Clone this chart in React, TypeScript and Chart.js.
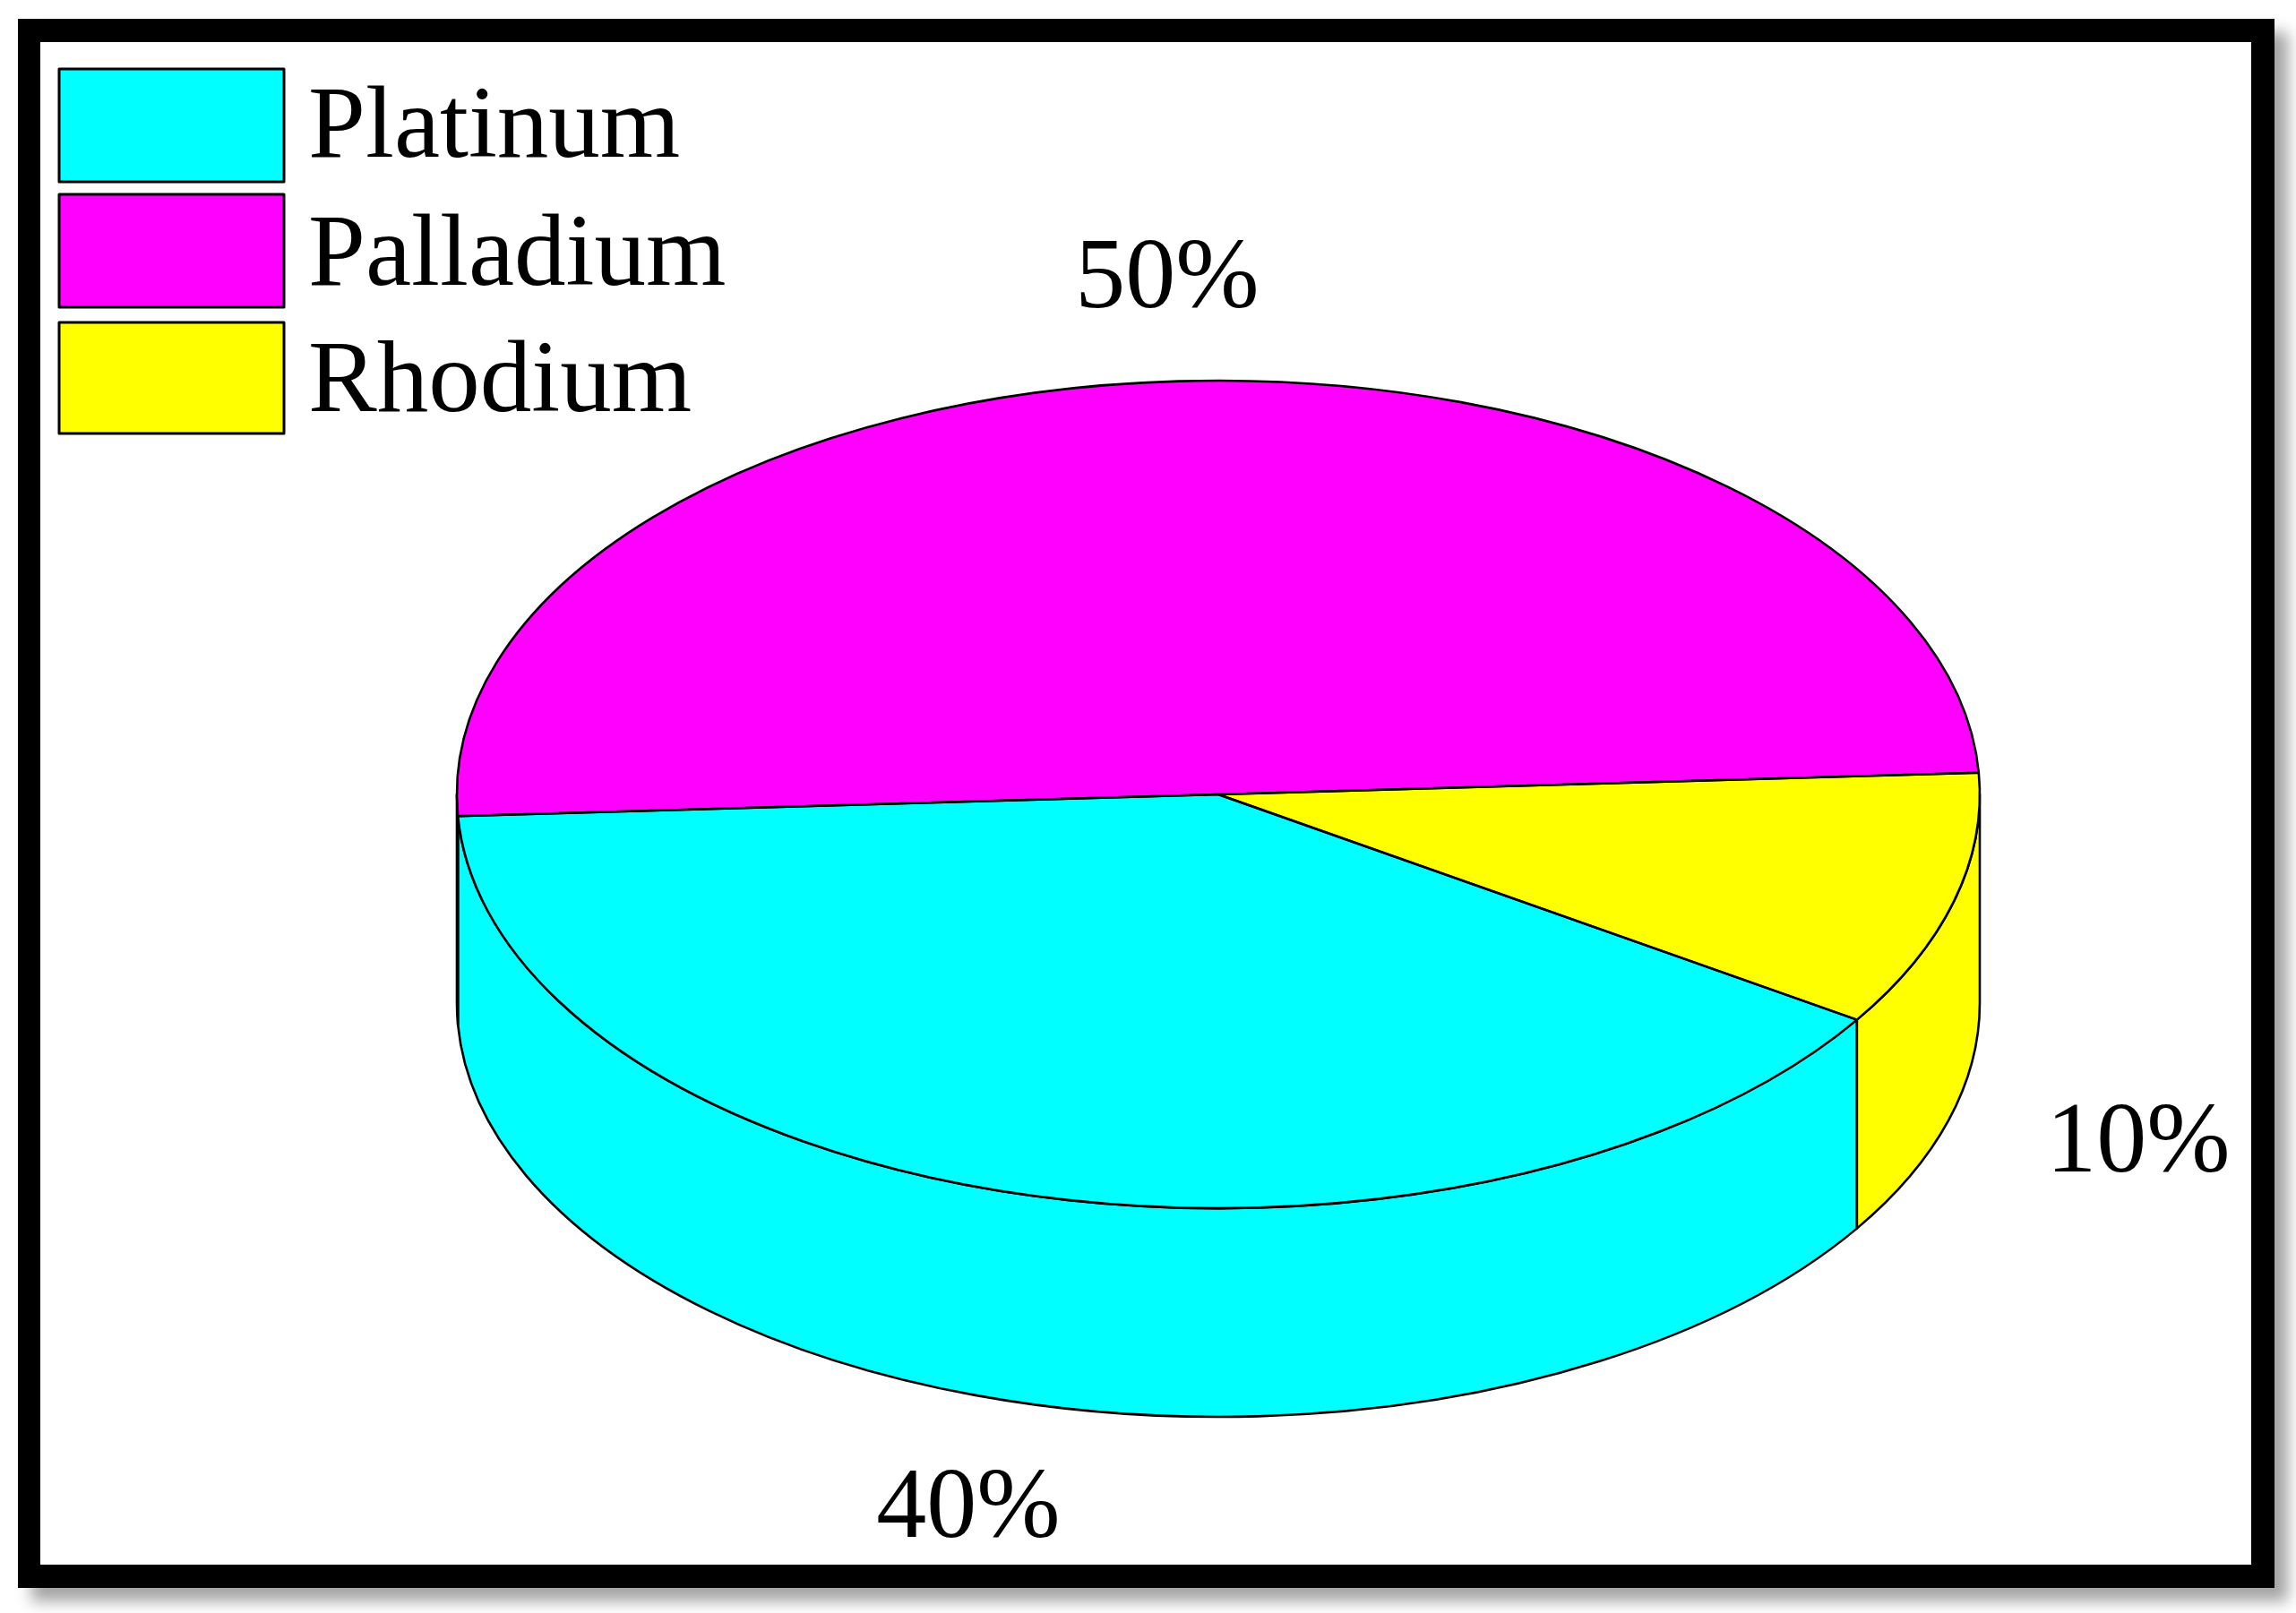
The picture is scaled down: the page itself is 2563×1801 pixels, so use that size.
import React, { useEffect, useRef } from "react";
import { Chart, registerables } from "chart.js";

Chart.register(...registerables);

const categories = ["Platinum", "Palladium", "Rhodium"];
const shares = [40, 50, 10];
const sliceColors = ["#00ffff", "#ff00ff", "#ffff00"];

const FONT = '"Liberation Serif", "Times New Roman", serif';
const SQUASH = 462 / 850;
const DEPTH = 233;
const LINE = 2.6;
const INK = "#000000";

// centre x and baseline y of the percentage text of each slice
const valueLabelAnchors = [
  { x: 1081, y: 1716 },
  { x: 1303, y: 343 },
  { x: 2387, y: 1308 },
];

const pie3d = {
  id: "pie3d",
  beforeDraw(chart: any) {
    const { ctx, width, height } = chart;
    ctx.save();
    ctx.fillStyle = "#ffffff";
    ctx.fillRect(0, 0, width, height);
    ctx.shadowColor = "rgba(0,0,0,0.36)";
    ctx.shadowOffsetX = 15;
    ctx.shadowOffsetY = 15;
    ctx.shadowBlur = 16;
    ctx.fillStyle = "#000000";
    ctx.fillRect(20, 21, 2519, 1752);
    ctx.shadowColor = "transparent";
    ctx.fillStyle = "#ffffff";
    ctx.fillRect(45, 47, 2468, 1700);
    ctx.restore();
  },
  beforeDatasetsDraw(chart: any) {
    const { ctx } = chart;
    const arcs = chart.getDatasetMeta(0).data;
    const { x: cx, y: cy, outerRadius: r } = arcs[0].getProps(["x", "y", "outerRadius"], true);
    ctx.save();
    ctx.lineWidth = LINE;
    ctx.strokeStyle = INK;
    ctx.lineJoin = "round";
    arcs.forEach((arc: any, i: number) => {
      const { startAngle: s, endAngle: e } = arc.getProps(["startAngle", "endAngle"], true);
      for (const base of [-2 * Math.PI, 0, 2 * Math.PI]) {
        const lo = Math.max(s, base);
        const hi = Math.min(e, base + Math.PI);
        if (hi <= lo) continue;
        ctx.beginPath();
        ctx.ellipse(cx, cy, r, r * SQUASH, 0, lo, hi, false);
        ctx.ellipse(cx, cy + DEPTH, r, r * SQUASH, 0, hi, lo, true);
        ctx.closePath();
        ctx.fillStyle = sliceColors[i];
        ctx.fill();
        ctx.stroke();
      }
    });
    ctx.restore();
    ctx.save();
    ctx.translate(cx, cy);
    ctx.scale(1, SQUASH);
    ctx.translate(-cx, -cy);
  },
  afterDatasetsDraw(chart: any) {
    const { ctx } = chart;
    ctx.restore();
    const arcs = chart.getDatasetMeta(0).data;
    ctx.save();
    ctx.lineWidth = LINE;
    ctx.strokeStyle = INK;
    ctx.lineJoin = "round";
    arcs.forEach((arc: any) => {
      const { x, y, outerRadius: r, startAngle: s, endAngle: e } = arc.getProps(
        ["x", "y", "outerRadius", "startAngle", "endAngle"],
        true
      );
      ctx.beginPath();
      ctx.moveTo(x, y);
      ctx.ellipse(x, y, r, r * SQUASH, 0, s, e, false);
      ctx.closePath();
      ctx.stroke();
    });

    // percentage labels
    ctx.fillStyle = "#000000";
    ctx.font = `112px ${FONT}`;
    ctx.textAlign = "center";
    ctx.textBaseline = "alphabetic";
    shares.forEach((v, i) => {
      ctx.fillText(`${v}%`, valueLabelAnchors[i].x, valueLabelAnchors[i].y);
    });

    // legend
    const boxTops = [77, 217, 360];
    const baselines = [175, 318, 459];
    ctx.font = `115px ${FONT}`;
    ctx.textAlign = "left";
    ctx.lineWidth = 3;
    categories.forEach((name, i) => {
      ctx.fillStyle = sliceColors[i];
      ctx.fillRect(66, boxTops[i], 251, i === 2 ? 124 : 126);
      ctx.strokeRect(66, boxTops[i], 251, i === 2 ? 124 : 126);
      ctx.fillStyle = "#000000";
      ctx.fillText(name, 344, baselines[i]);
    });
    ctx.restore();
  },
};

export default function App() {
  const ref = useRef<HTMLCanvasElement>(null);
  useEffect(() => {
    document.body.style.margin = "0";
    document.body.style.overflow = "hidden";
    const chart = new Chart(ref.current as HTMLCanvasElement, {
      type: "pie",
      data: {
        labels: categories,
        datasets: [
          {
            data: shares,
            backgroundColor: sliceColors,
            borderWidth: 0,
          },
        ],
      },
      options: {
        animation: false,
        responsive: false,
        devicePixelRatio: 1,
        rotation: 123,
        layout: { padding: { left: 157, right: 0, top: 37, bottom: 64 } },
        plugins: {
          legend: { display: false },
          title: { display: false },
          tooltip: { enabled: false },
        },
      },
      plugins: [pie3d],
    } as any);
    return () => chart.destroy();
  }, []);
  return (
    <div style={{ position: "absolute", left: 0, top: 0, width: 2563, height: 1801 }}>
      <canvas ref={ref} width={2563} height={1801} style={{ display: "block" }} />
    </div>
  );
}
